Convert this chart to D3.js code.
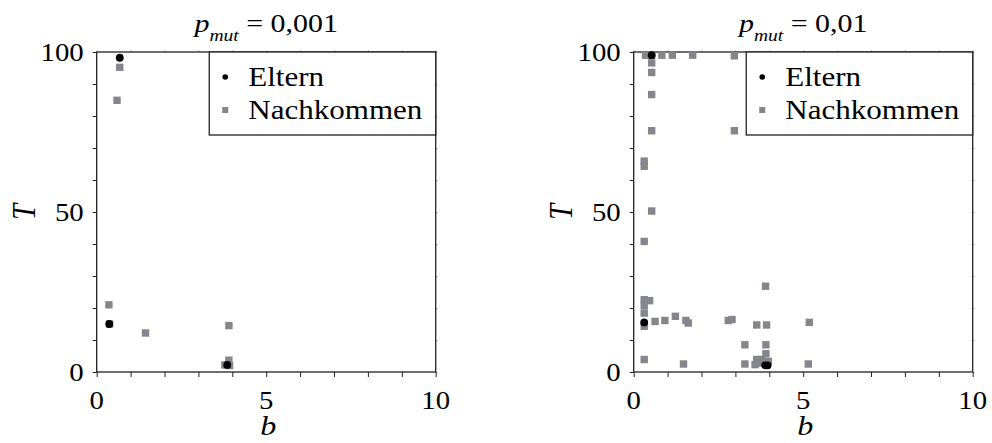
<!DOCTYPE html>
<html lang="de">
<head>
<meta charset="UTF-8">
<title>Eltern und Nachkommen</title>
<style>
  body { margin: 0; background: #fff; }
  svg text { fill: #000; }
</style>
</head>
<body>
<svg id="chart" width="992" height="443"></svg>
<script src="https://d3js.org/d3.v7.min.js"></script>
<script>
// panel titles (p_mut values)
const titles = ["0,001", "0,01"];
const xTickLabels = [0, 5, 10];
const yTickLabels = [0, 50, 100];
const legendLabels = ["Eltern", "Nachkommen"];

// p_mut = 0,001
const eltern1 = [[0.68, 98.2], [0.37, 15], [3.85, 2.2]];
const nachkommen1 = [
  [0.68, 95.2], [0.6, 84.9], [0.36, 21], [0.38, 15], [1.44, 12.2],
  [3.9, 14.5], [3.9, 3.7], [3.78, 2.2], [3.92, 2]
];

// p_mut = 0,01
const eltern2 = [[0.53, 99], [0.31, 15.5], [3.88, 2.1], [3.95, 2.1]];
const nachkommen2 = [
  [0.35, 99], [0.53, 99], [0.83, 99], [1.14, 99], [1.74, 99], [2.97, 98.8],
  [0.53, 96.6], [0.53, 93.6], [0.53, 86.7], [0.53, 75.4], [2.97, 75.4],
  [0.31, 65.9], [0.31, 64.3], [0.53, 50.3], [0.31, 40.8], [3.89, 26.8],
  [0.31, 22.6], [0.47, 22.3], [0.31, 20.7], [0.31, 18.4], [0.31, 14.3],
  [0.63, 15.8], [0.92, 16.1], [1.23, 17.4], [1.54, 16.1], [1.61, 15.3],
  [2.79, 16.1], [2.9, 16.4], [3.63, 14.7], [3.92, 14.7], [5.18, 15.5],
  [3.28, 8.5], [3.9, 8.5], [3.9, 5.7], [0.31, 3.9], [1.47, 2.5], [3.28, 2.5],
  [5.15, 2.5], [3.63, 3.9], [3.72, 2.8], [3.58, 2.3], [3.97, 3.3], [3.78, 3.9],
  [3.68, 3.3]
];

const svg = d3.select("#chart");
const sx = 1.15; // the reference text is a little wider than normal
const grey = "#85868c";
const serif = "Liberation Serif";

function label(g, x, y, txt, size, anchor, italic) {
  return g.append("text")
    .attr("transform", `translate(${x},${y}) scale(${sx},1)`)
    .attr("text-anchor", anchor)
    .style("font-family", serif)
    .style("font-size", size + "px")
    .style("font-style", italic ? "italic" : "normal")
    .text(txt);
}

function panel(left, title, eltern, nachkommen) {
  const width = 339, height = 320, top = 52;
  const g = svg.append("g").attr("transform", `translate(${left},${top})`);

  const x = d3.scaleLinear().domain([0, 10]).range([0, width]);
  const y = d3.scaleLinear().domain([0, 100]).range([height, 0]);

  // faint ticks on top and right
  g.append("g").call(d3.axisTop(x).ticks(10).tickSize(2).tickFormat(""))
    .call(a => a.select(".domain").remove())
    .selectAll("line").attr("stroke", "#bbb");
  g.append("g").attr("transform", `translate(${width},0)`)
    .call(d3.axisRight(y).ticks(10).tickSize(2).tickFormat(""))
    .call(a => a.select(".domain").remove())
    .selectAll("line").attr("stroke", "#bbb");

  // bottom & left ticks
  g.append("g").attr("transform", `translate(0,${height})`)
    .call(d3.axisBottom(x).ticks(10).tickSize(5).tickFormat(""))
    .call(a => a.select(".domain").remove())
    .selectAll("line").attr("stroke", "#222");
  g.append("g")
    .call(d3.axisLeft(y).ticks(10).tickSize(4).tickFormat(""))
    .call(a => a.select(".domain").remove())
    .selectAll("line").attr("stroke", "#222");

  // frame
  g.append("rect").attr("width", width).attr("height", height)
    .attr("fill", "none").attr("stroke", "#222").attr("stroke-width", 1.3);

  // tick labels
  xTickLabels.forEach(v => label(g, x(v), height + 37, v, 25, "middle"));
  yTickLabels.forEach(v => label(g, -13, y(v) + 9, v, 25, "end"));

  // axis titles
  label(g, width / 2 + 2, height + 63, "b", 28, "middle", true);
  g.append("text")
    .attr("transform", `translate(${-62},${height / 2}) rotate(-90) scale(1,${sx})`)
    .attr("text-anchor", "middle")
    .style("font-family", serif)
    .style("font-size", "29px").style("font-style", "italic")
    .text("T");

  // title p_mut = ...
  const t = g.append("text")
    .attr("transform", `translate(${width / 2},${-20}) scale(${sx},1)`)
    .attr("text-anchor", "middle")
    .style("font-family", serif)
    .style("font-size", "26px");
  t.append("tspan").style("font-style", "italic").text("p");
  t.append("tspan").style("font-style", "italic").style("font-size", "17px")
    .attr("dy", 9).text("mut");
  t.append("tspan").attr("dy", -9).text(" = " + title);

  // points
  g.append("g").selectAll("rect").data(nachkommen).join("rect")
    .attr("x", d => x(d[0]) - 3.7).attr("y", d => y(d[1]) - 3.7)
    .attr("width", 7.4).attr("height", 7.4).attr("fill", grey);
  g.append("g").selectAll("circle").data(eltern).join("circle")
    .attr("cx", d => x(d[0])).attr("cy", d => y(d[1]))
    .attr("r", 3.9).attr("fill", "#000");

  // legend
  const lx = x(3.32), lw = width - lx, lh = 83;
  const lg = g.append("g").attr("transform", `translate(${lx},0)`);
  lg.append("rect").attr("width", lw).attr("height", lh)
    .attr("fill", "#fff").attr("stroke", "#222").attr("stroke-width", 1.3);
  lg.append("circle").attr("cx", 16).attr("cy", 25).attr("r", 2.8).attr("fill", "#000");
  lg.append("rect").attr("x", 13).attr("y", 55).attr("width", 6).attr("height", 6).attr("fill", grey);
  label(lg, 39, 34, legendLabels[0], 27, "start");
  label(lg, 39, 67, legendLabels[1], 27, "start");
}

panel(96.7, titles[0], eltern1, nachkommen1);
panel(633.7, titles[1], eltern2, nachkommen2);
</script>
</body>
</html>
